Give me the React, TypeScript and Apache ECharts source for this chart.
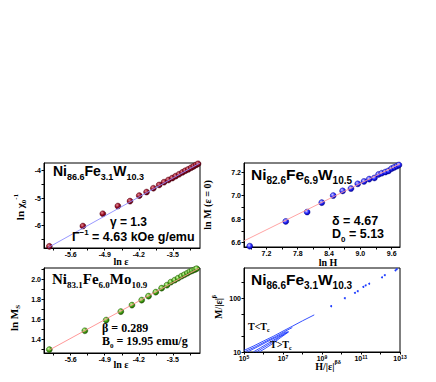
import React, { useEffect, useRef } from 'react';
import * as echarts from 'echarts';

const SANS = '"Liberation Sans", Arial, sans-serif';
const SERIF = '"Liberation Serif", "Times New Roman", serif';

// Panel 1: ln chi0^-1 vs ln eps
const p1LnEps = [-6.04, -5.35, -4.94, -4.63, -4.38, -4.19, -4.04, -3.9, -3.78, -3.68, -3.59, -3.51, -3.44, -3.37, -3.3, -3.24, -3.18, -3.12, -3.07, -3.02, -2.98];
const p1LnChi = [-6.76, -6.02, -5.57, -5.29, -5.11, -4.91, -4.78, -4.64, -4.52, -4.42, -4.34, -4.27, -4.2, -4.13, -4.06, -4.0, -3.95, -3.89, -3.84, -3.79, -3.75];
const p1FitX = [-6.06, -2.94];
const p1FitY = [-6.8, -3.72];
const p1XTicks = [-5.6, -4.9, -4.2, -3.5];
const p1YTicks = [-6, -5, -4];

// Panel 2: ln M(eps=0) vs ln H
const p2LnH = [6.88, 7.57, 7.98, 8.26, 8.48, 8.66, 8.82, 8.95, 9.07, 9.17, 9.27, 9.35, 9.41, 9.48, 9.54, 9.6, 9.65, 9.7, 9.74];
const p2LnM = [6.57, 6.78, 6.86, 6.94, 7.0, 7.04, 7.06, 7.1, 7.12, 7.14, 7.15, 7.18, 7.19, 7.2, 7.21, 7.23, 7.24, 7.25, 7.26];
const p2FitX = [6.77, 9.76];
const p2FitY = [6.615, 7.27];
const p2XTicks = [7.2, 7.8, 8.4, 9.0, 9.6];
const p2YTicks = [6.6, 6.8, 7.0, 7.2];

// Panel 3: ln Ms vs ln eps
const p3LnEps = [-6.04, -5.31, -4.87, -4.57, -4.34, -4.14, -4.0, -3.85, -3.73, -3.62, -3.54, -3.46, -3.39, -3.32, -3.26, -3.2, -3.15, -3.1, -3.05, -3.01];
const p3LnMs = [1.294, 1.483, 1.59, 1.675, 1.74, 1.79, 1.83, 1.87, 1.91, 1.94, 1.97, 1.99, 2.01, 2.03, 2.045, 2.06, 2.075, 2.085, 2.095, 2.105];
const p3FitX = [-6.04, -2.96];
const p3FitY = [1.29, 2.11];
const p3XTicks = [-5.6, -4.9, -4.2, -3.5];
const p3YTicks = [1.4, 1.6, 1.8, 2.0];

// Panel 4: scaling plot M/|eps|^beta vs H/|eps|^(beta delta)
const p4CurvesH = [
  [1.0e5, 3.2e5, 1.0e6, 3.2e6, 1.0e7, 3.2e7, 1.0e8, 4.0e8],
  [1.2e5, 4.0e5, 1.2e6, 4.0e6, 1.2e7, 3.0e7],
  [1.5e5, 5.0e5, 1.5e6, 5.0e6, 1.5e7],
  [3.0e5, 7.0e5, 2.0e6, 6.0e6, 1.8e7],
  [4.2e5, 9.0e5, 2.4e6, 6.5e6, 1.9e7],
  [6.0e5, 1.2e6, 3.0e6, 7.5e6, 2.0e7],
];
const p4CurvesM = [
  [10.7, 13.0, 16.0, 19.6, 24.5, 30.5, 38.0, 49.0],
  [10.3, 12.6, 15.5, 19.2, 24.0, 28.5],
  [10.0, 12.5, 15.4, 19.2, 24.0],
  [10.0, 12.0, 15.0, 19.0, 23.8],
  [10.0, 11.8, 14.6, 18.7, 23.9],
  [10.0, 11.6, 14.4, 18.5, 23.8],
];
const p4SparseH = [2.95e9, 1.48e10, 4.9e10, 6.8e10, 1.32e11, 1.74e11, 2.63e11, 1.2e12, 1.66e12, 5.9e12, 6.8e12];
const p4SparseM = [71, 100, 126, 135, 162, 174, 186, 245, 269, 331, 347];
const p4XTicks = [1e5, 1e7, 1e9, 1e11, 1e13];
const p4YTicks = [10, 100];

const zip = (a: number[], b: number[]) => a.map((v, i) => [v, b[i]]);

type Part = [string, 'n' | 'sub' | 'sup'];
function richText(parts: Part[], size: number, serif: boolean) {
  const fam = serif ? SERIF : SANS;
  const ss = Math.round(size * 0.62);
  const hasScript = parts.some((p) => p[1] !== 'n');
  const lh = Math.round(size * (hasScript ? 1.4 : 1.0));
  return {
    text: parts.map(([t, k]) => `{${k}|${t}}`).join(''),
    rich: {
      n: { fontSize: size, fontWeight: 'bold', fontFamily: fam, fill: '#000', lineHeight: lh },
      sub: { fontSize: ss, fontWeight: 'bold', fontFamily: fam, fill: '#000', lineHeight: ss, verticalAlign: 'bottom' },
      sup: { fontSize: ss, fontWeight: 'bold', fontFamily: fam, fill: '#000', lineHeight: ss, verticalAlign: 'top' },
    },
  };
}

function label(x: number, y: number, parts: Part[], size: number, serif: boolean, opts: any = {}) {
  const r = richText(parts, size, serif);
  return {
    type: 'text',
    x,
    y,
    rotation: opts.rotation || 0,
    z: 100,
    style: {
      text: r.text,
      rich: r.rich,
      align: opts.align || 'left',
      verticalAlign: 'middle',
    },
  };
}

const tickLabel = {
  fontSize: 7,
  fontWeight: 'bold',
  fontFamily: SANS,
  color: '#000',
  margin: 3,
};

function valueAxis(gridIndex: number, min: number, max: number, ticks: number[], minor: number[], fmt: (v: number) => string) {
  return {
    type: 'value',
    gridIndex,
    min,
    max,
    axisLine: { show: true, onZero: false, lineStyle: { color: '#000', width: 1 } },
    axisTick: { show: true, length: 2.5, customValues: minor, lineStyle: { color: '#000', width: 1 } },
    axisLabel: { ...tickLabel, customValues: ticks, formatter: fmt },
    splitLine: { show: false },
  };
}

function ball(light: string, mid: string, dark: string) {
  return {
    type: 'radial',
    x: 0.38,
    y: 0.35,
    r: 0.65,
    colorStops: [
      { offset: 0, color: light },
      { offset: 0.55, color: mid },
      { offset: 1, color: dark },
    ],
  };
}

export default function App() {
  const ref = useRef<HTMLDivElement>(null);
  useEffect(() => {
    document.body.style.margin = '0';
    const chart = echarts.init(ref.current!, null, { renderer: 'svg' });
    const f1 = (v: number) => String(Math.round(v));
    const f1d = (v: number) => v.toFixed(1);

    const p4Series = p4CurvesH.map((h, i) => ({
      type: 'line',
      xAxisIndex: 3,
      yAxisIndex: 3,
      data: zip(h, p4CurvesM[i]),
      showSymbol: false,
      symbol: 'none',
      lineStyle: { color: '#1f3dff', width: 0.9 },
    }));

    const option: any = {
      animation: false,
      backgroundColor: '#fff',
      grid: [
        { left: 44, top: 163, width: 156, height: 85, show: true, borderColor: '#000', borderWidth: 1, backgroundColor: '#fff' },
        { left: 244, top: 163, width: 156, height: 84, show: true, borderColor: '#000', borderWidth: 1, backgroundColor: '#fff' },
        { left: 44, top: 268, width: 156, height: 85, show: true, borderColor: '#000', borderWidth: 1, backgroundColor: '#fff' },
        { left: 244, top: 268, width: 156, height: 84, show: true, borderColor: '#000', borderWidth: 1, backgroundColor: '#fff' },
      ],
      xAxis: [
        valueAxis(0, -6.15, -2.94, p1XTicks, [-5.95, -5.6, -5.25, -4.9, -4.55, -4.2, -3.85, -3.5, -3.15], f1d),
        valueAxis(1, 6.77, 9.76, p2XTicks, [6.9, 7.2, 7.5, 7.8, 8.1, 8.4, 8.7, 9.0, 9.3, 9.6], f1d),
        valueAxis(2, -6.15, -2.94, p3XTicks, [-5.95, -5.6, -5.25, -4.9, -4.55, -4.2, -3.85, -3.5, -3.15], f1d),
        {
          type: 'log',
          logBase: 10,
          gridIndex: 3,
          min: 1e5,
          max: 1e13,
          axisLine: { show: true, onZero: false, lineStyle: { color: '#000', width: 1 } },
          axisTick: { show: true, length: 2.5, customValues: [1e5, 1e6, 1e7, 1e8, 1e9, 1e10, 1e11, 1e12, 1e13], lineStyle: { color: '#000' } },
          axisLabel: {
            ...tickLabel,
            margin: 2,
            customValues: p4XTicks,
            formatter: (v: number) => `{b|10}{s|${Math.round(Math.log10(v))}}`,
            rich: {
              b: { fontSize: 7, fontWeight: 'bold', fontFamily: SANS, color: '#000', lineHeight: 8 },
              s: { fontSize: 5, fontWeight: 'bold', fontFamily: SANS, color: '#000', lineHeight: 4, verticalAlign: 'top' },
            },
          },
          splitLine: { show: false },
        },
      ],
      yAxis: [
        valueAxis(0, -6.82, -3.72, p1YTicks, [-6.5, -6, -5.5, -5, -4.5, -4], f1),
        valueAxis(1, 6.563, 7.277, p2YTicks, [6.6, 6.7, 6.8, 6.9, 7.0, 7.1, 7.2], f1d),
        valueAxis(2, 1.26, 2.112, p3YTicks, [1.3, 1.4, 1.5, 1.6, 1.7, 1.8, 1.9, 2.0, 2.1], f1d),
        {
          type: 'log',
          logBase: 10,
          gridIndex: 3,
          min: 10,
          max: 365,
          axisLine: { show: true, onZero: false, lineStyle: { color: '#000', width: 1 } },
          axisTick: { show: true, length: 2.5, customValues: [10, 20, 50, 100, 200], lineStyle: { color: '#000' } },
          axisLabel: { ...tickLabel, customValues: p4YTicks, formatter: (v: number) => String(Math.round(v)) },
          splitLine: { show: false },
        },
      ],
      series: [
        { type: 'line', xAxisIndex: 0, yAxisIndex: 0, data: zip(p1FitX, p1FitY), symbol: 'none', lineStyle: { color: '#8c8cff', width: 0.9 } },
        {
          type: 'scatter', xAxisIndex: 0, yAxisIndex: 0, data: zip(p1LnEps, p1LnChi), symbolSize: 6,
          itemStyle: { color: ball('#e89098', '#960a22', '#500010'), borderColor: '#4a0010', borderWidth: 0.4, opacity: 1 },
        },
        { type: 'line', xAxisIndex: 1, yAxisIndex: 1, data: zip(p2FitX, p2FitY), symbol: 'none', lineStyle: { color: '#ff9a9a', width: 0.9 } },
        {
          type: 'scatter', xAxisIndex: 1, yAxisIndex: 1, data: zip(p2LnH, p2LnM), symbolSize: 6,
          itemStyle: { color: ball('#d0d0ff', '#2a2aff', '#0000a0'), borderColor: '#00008a', borderWidth: 0.4, opacity: 1 },
        },
        { type: 'line', xAxisIndex: 2, yAxisIndex: 2, data: zip(p3FitX, p3FitY), symbol: 'none', lineStyle: { color: '#ff8c8c', width: 0.9 } },
        {
          type: 'scatter', xAxisIndex: 2, yAxisIndex: 2, data: zip(p3LnEps, p3LnMs), symbolSize: 6,
          itemStyle: { color: ball('#d8ffb0', '#4aa818', '#1e5a00'), borderColor: '#1a4a00', borderWidth: 0.4, opacity: 1 },
        },
        ...p4Series,
        {
          type: 'scatter', xAxisIndex: 3, yAxisIndex: 3, data: zip(p4SparseH, p4SparseM), symbolSize: 2,
          itemStyle: { color: '#1f3dff', opacity: 1 },
        },
      ],
      graphic: [
        // panel 1
        label(53, 171, [['Ni', 'n'], ['86.6', 'sub'], ['Fe', 'n'], ['3.1', 'sub'], ['W', 'n'], ['10.3', 'sub']], 14, false),
        label(110, 222, [['γ = 1.3', 'n']], 12, false),
        label(72, 237, [['Γ', 'n'], ['−1', 'sup'], [' = 4.63 kOe g/emu', 'n']], 12.5, false),
        label(20, 207, [['ln χ', 'n'], ['0', 'sub'], ['-1', 'sup']], 11, true, { rotation: Math.PI / 2, align: 'center' }),
        label(121, 261, [['ln ε', 'n']], 10, true, { align: 'center' }),
        // panel 2
        label(251, 174, [['Ni', 'n'], ['82.6', 'sub'], ['Fe', 'n'], ['6.9', 'sub'], ['W', 'n'], ['10.5', 'sub']], 15.5, false),
        label(332, 221, [['δ = 4.67', 'n']], 12.5, false),
        label(332, 234, [['D', 'n'], ['0', 'sub'], [' = 5.13', 'n']], 12.5, false),
        label(207, 205, [['ln M (ε = 0)', 'n']], 10, true, { rotation: Math.PI / 2, align: 'center' }),
        label(328, 262, [['ln H', 'n']], 10, true, { align: 'center' }),
        // panel 3
        label(52, 279, [['Ni', 'n'], ['83.1', 'sub'], ['Fe', 'n'], ['6.0', 'sub'], ['Mo', 'n'], ['10.9', 'sub']], 15, true),
        label(102, 328, [['β = 0.289', 'n']], 12, true),
        label(102, 341, [['B', 'n'], ['0', 'sub'], [' = 19.95 emu/g', 'n']], 12, true),
        label(14, 318, [['ln M', 'n'], ['S', 'sub']], 11, true, { rotation: Math.PI / 2, align: 'center' }),
        label(121, 364, [['ln ε', 'n']], 10, true, { align: 'center' }),
        // panel 4
        label(251, 279, [['Ni', 'n'], ['86.6', 'sub'], ['Fe', 'n'], ['3.1', 'sub'], ['W', 'n'], ['10.3', 'sub']], 15.5, false),
        label(248, 326, [['T<T', 'n'], ['c', 'sub']], 10, true),
        label(270, 344, [['T>T', 'n'], ['c', 'sub']], 10, true),
        label(218, 307, [['M/|ε|', 'n'], ['β', 'sup']], 10, true, { rotation: Math.PI / 2, align: 'center' }),
        label(328, 366, [['H/|ε|', 'n'], ['βδ', 'sup']], 10, true, { align: 'center' }),
      ],
    };
    chart.setOption(option);
    return () => chart.dispose();
  }, []);
  return <div ref={ref} style={{ width: 436, height: 382 }} />;
}
